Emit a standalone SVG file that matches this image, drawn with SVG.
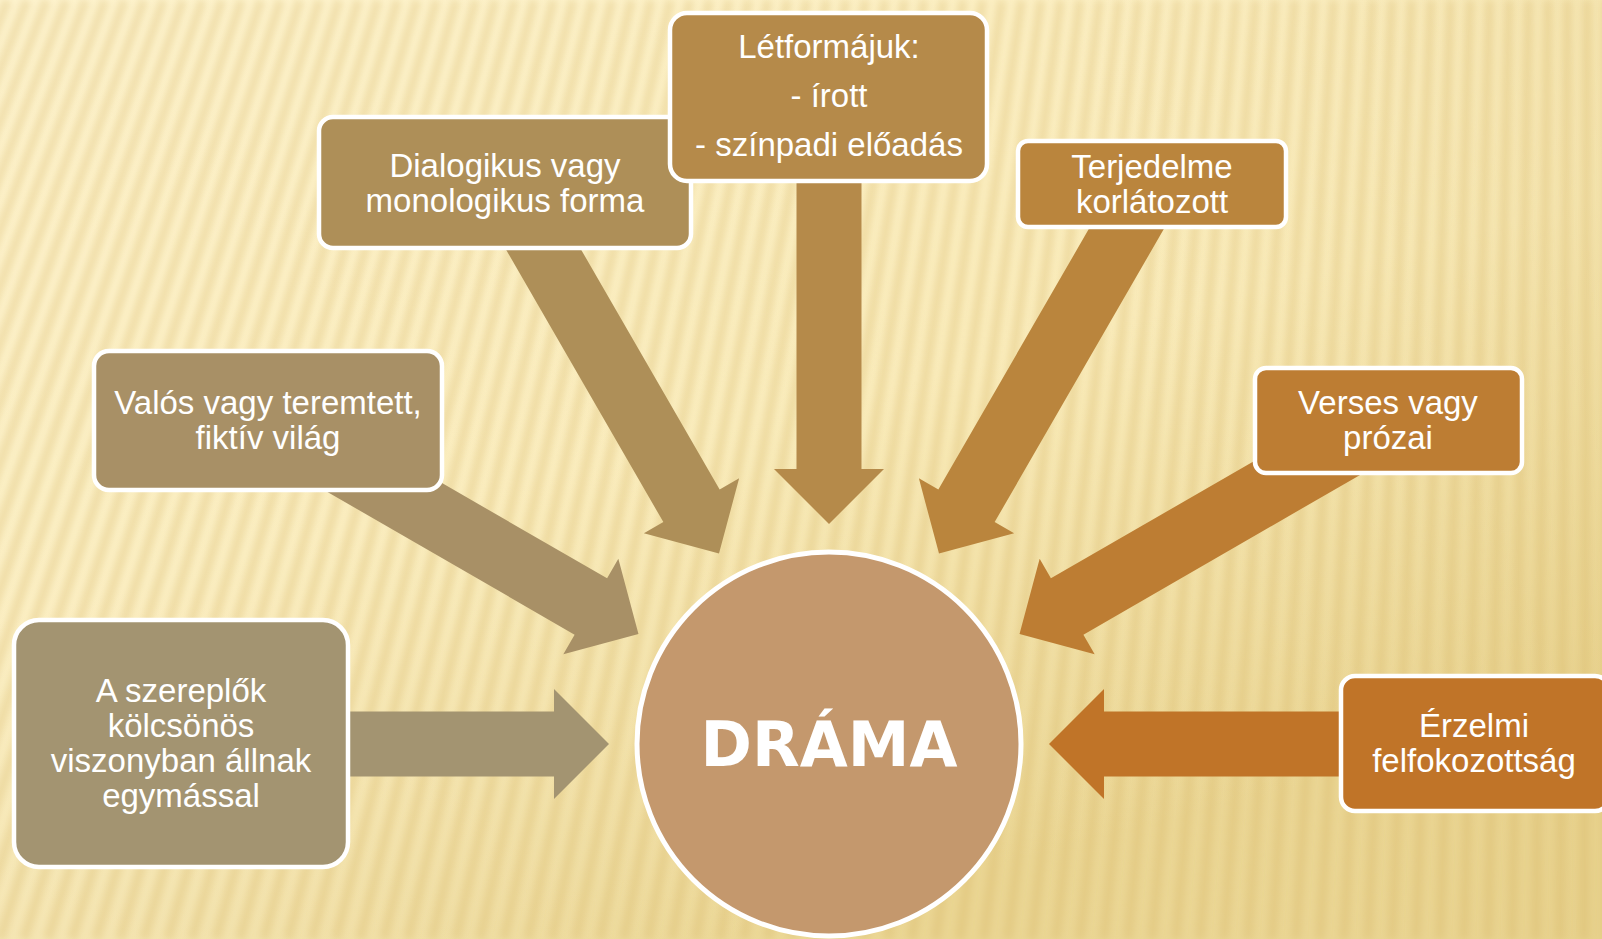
<svg xmlns="http://www.w3.org/2000/svg" width="1602" height="939" viewBox="0 0 1602 939">
<style>
.box{stroke:#fff;stroke-width:4.5}
.t{font-family:"Liberation Sans",Arial,sans-serif;font-size:33px;fill:#fff;text-anchor:middle}
.big{font-family:"DejaVu Sans",Verdana,sans-serif;font-weight:bold;font-size:62px;fill:#fff;text-anchor:middle}
</style>
<defs>
<linearGradient id="bg" x1="0" y1="0" x2="0.45" y2="1">
<stop offset="0" stop-color="#fef3cb"/>
<stop offset="0.55" stop-color="#faecbb"/>
<stop offset="1" stop-color="#ead592"/>
</linearGradient>
<linearGradient id="bg2" x1="0" y1="0" x2="1" y2="0">
<stop offset="0" stop-color="#fff6d6" stop-opacity="0.35"/>
<stop offset="0.6" stop-color="#fff6d6" stop-opacity="0"/>
<stop offset="1" stop-color="#d9bd6c" stop-opacity="0.18"/>
</linearGradient>
<filter id="soft" x="-5%" y="-5%" width="110%" height="110%"><feGaussianBlur stdDeviation="3.5"/></filter>
<path id="arr" d="M620,-32.5 L275,-32.5 L275,-55 L220,0 L275,55 L275,32.5 L620,32.5 Z"/>
</defs>
<g id="background">
<rect width="1602" height="939" fill="url(#bg)"/>
<rect width="1602" height="939" fill="url(#bg2)"/>
<path filter="url(#soft)" stroke="#d4b463" stroke-opacity="0.3" stroke-width="10" fill="none" d="M-360 939L7.5 0M-336 939L27 0M-312 939L46.5 0M-288 939L66 0M-264 939L85.5 0M-240 939L105 0M-216 939L124.5 0M-192 939L144 0M-168 939L163.5 0M-144 939L183 0M-120 939L202.5 0M-96 939L222 0M-72 939L241.5 0M-48 939L261 0M-24 939L280.5 0M0 939L300 0M24 939L319.5 0M48 939L339 0M72 939L358.5 0M96 939L378 0M120 939L397.5 0M144 939L417 0M168 939L436.5 0M192 939L456 0M216 939L475.5 0M240 939L495 0M264 939L514.5 0M288 939L534 0M312 939L553.5 0M336 939L573 0M360 939L592.5 0M384 939L612 0M408 939L631.5 0M432 939L651 0M456 939L670.5 0M480 939L690 0M504 939L709.5 0M528 939L729 0M552 939L748.5 0M576 939L768 0M600 939L787.5 0M624 939L807 0M648 939L826.5 0M672 939L846 0M696 939L865.5 0M720 939L885 0M744 939L904.5 0M768 939L924 0M792 939L943.5 0M816 939L963 0M840 939L982.5 0M864 939L1002 0M888 939L1021.5 0M912 939L1041 0M936 939L1060.5 0M960 939L1080 0M984 939L1099.5 0M1008 939L1119 0M1032 939L1138.5 0M1056 939L1158 0M1080 939L1177.5 0M1104 939L1197 0M1128 939L1216.5 0M1152 939L1236 0M1176 939L1255.5 0M1200 939L1275 0M1224 939L1294.5 0M1248 939L1314 0M1272 939L1333.5 0M1296 939L1353 0M1320 939L1372.5 0M1344 939L1392 0M1368 939L1411.5 0M1392 939L1431 0M1416 939L1450.5 0M1440 939L1470 0M1464 939L1489.5 0M1488 939L1509 0M1512 939L1528.5 0M1536 939L1548 0M1560 939L1567.5 0M1584 939L1587 0M1608 939L1606.5 0"/>
</g>
<g id="connectors">
<use href="#arr" transform="translate(829,744) rotate(180)" fill="#a39471"/>
<use href="#arr" transform="translate(829,744) rotate(-150)" fill="#a89066"/>
<use href="#arr" transform="translate(829,744) rotate(-120)" fill="#ae8f58"/>
<use href="#arr" transform="translate(829,744) rotate(-90)" fill="#b58a4a"/>
<use href="#arr" transform="translate(829,744) rotate(-60)" fill="#ba853d"/>
<use href="#arr" transform="translate(829,744) rotate(-30)" fill="#bd7d33"/>
<use href="#arr" transform="translate(829,744) rotate(0)" fill="#c07428"/>
</g>
<g id="center">
<circle cx="829" cy="744" r="192" fill="#c4986d" stroke="#fff" stroke-width="5"/>
<text class="big" x="829" y="766">DRÁMA</text>
</g>
<g id="node1">
<rect class="box" x="14" y="620" width="334" height="247" rx="25" fill="#a39471"/>
<text class="t" x="181" y="702">A szereplők</text>
<text class="t" x="181" y="737">kölcsönös</text>
<text class="t" x="181" y="772">viszonyban állnak</text>
<text class="t" x="181" y="807">egymással</text>
</g>
<g id="node2">
<rect class="box" x="94" y="351" width="348" height="139" rx="15" fill="#a89066"/>
<text class="t" x="268" y="414">Valós vagy teremtett,</text>
<text class="t" x="268" y="449">fiktív világ</text>
</g>
<g id="node3">
<rect class="box" x="319" y="117" width="372" height="131" rx="14" fill="#ae8f58"/>
<text class="t" x="505" y="177">Dialogikus vagy</text>
<text class="t" x="505" y="212">monologikus forma</text>
</g>
<g id="node4">
<rect class="box" x="670" y="13" width="317" height="168" rx="17" fill="#b58a4a"/>
<text class="t" x="829" y="58">Létformájuk:</text>
<text class="t" x="829" y="107">- írott</text>
<text class="t" x="829" y="156">- színpadi előadás</text>
</g>
<g id="node5">
<rect class="box" x="1018" y="141" width="268" height="86" rx="10" fill="#ba853d"/>
<text class="t" x="1152" y="178">Terjedelme</text>
<text class="t" x="1152" y="213">korlátozott</text>
</g>
<g id="node6">
<rect class="box" x="1255" y="368" width="267" height="105" rx="11" fill="#bd7d33"/>
<text class="t" x="1388" y="414">Verses vagy</text>
<text class="t" x="1388" y="449">prózai</text>
</g>
<g id="node7">
<rect class="box" x="1341" y="676" width="268" height="135" rx="14" fill="#c07428"/>
<text class="t" x="1474" y="737">Érzelmi</text>
<text class="t" x="1474" y="772">felfokozottság</text>
</g>
</svg>
